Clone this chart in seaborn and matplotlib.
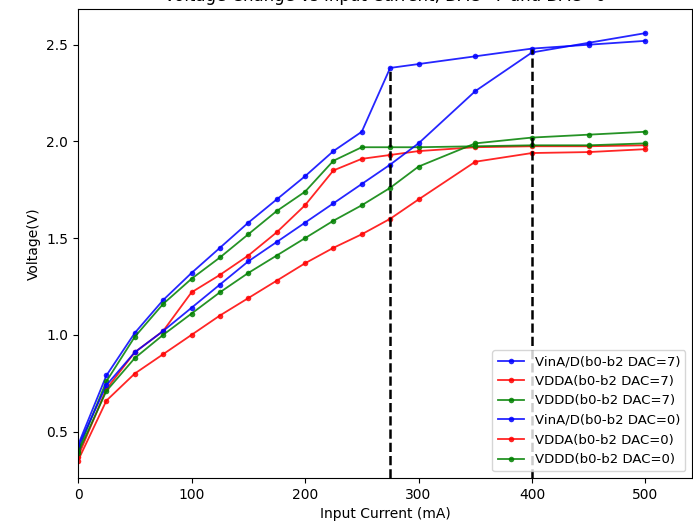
import pandas as pd
import seaborn as sns
import matplotlib.pyplot as plt

# input current (mA)
current = [0, 25, 50, 75, 100, 125, 150, 175, 200, 225, 250, 275, 300, 350, 400, 450, 500]

# measured voltages (V)
vin_dac7 = [0.43, 0.79, 1.01, 1.18, 1.32, 1.45, 1.58, 1.70, 1.82, 1.95, 2.05, 2.38, 2.40, 2.44, 2.48, 2.50, 2.52]
vdda_dac7 = [0.37, 0.72, 0.91, 1.02, 1.22, 1.31, 1.41, 1.53, 1.67, 1.85, 1.91, 1.93, 1.95, 1.97, 1.975, 1.975, 1.98]
vddd_dac7 = [0.40, 0.76, 0.99, 1.16, 1.29, 1.40, 1.52, 1.64, 1.74, 1.90, 1.97, 1.97, 1.97, 1.975, 1.98, 1.98, 1.99]
vin_dac0 = [0.42, 0.74, 0.91, 1.02, 1.14, 1.26, 1.38, 1.48, 1.58, 1.68, 1.78, 1.88, 1.99, 2.26, 2.46, 2.51, 2.56]
vdda_dac0 = [0.35, 0.66, 0.80, 0.90, 1.00, 1.10, 1.19, 1.28, 1.37, 1.45, 1.52, 1.60, 1.70, 1.895, 1.94, 1.945, 1.96]
vddd_dac0 = [0.39, 0.71, 0.88, 1.00, 1.11, 1.22, 1.32, 1.41, 1.50, 1.59, 1.67, 1.76, 1.87, 1.99, 2.02, 2.035, 2.05]

labels = ['VinA/D(b0-b2 DAC=7)', 'VDDA(b0-b2 DAC=7)', 'VDDD(b0-b2 DAC=7)',
          'VinA/D(b0-b2 DAC=0)', 'VDDA(b0-b2 DAC=0)', 'VDDD(b0-b2 DAC=0)']
colors = ['b', 'r', 'g', 'b', 'r', 'g']
series = [vin_dac7, vdda_dac7, vddd_dac7, vin_dac0, vdda_dac0, vddd_dac0]

# dashed markers at the jump points of VinA/D
mark_current = [275, 400]
mark_top = [2.38, 2.48]

fig = plt.figure(figsize=(6.93, 5.21), dpi=100)
ax = fig.add_axes([0.1126, 0.0825, 0.886, 0.900])

for vals, lab, col in zip(series, labels, colors):
    df = pd.DataFrame({'Current': current, 'Voltage': vals})
    sns.lineplot(data=df, x='Current', y='Voltage', ax=ax, color=col, marker='o',
                 markersize=4, markeredgewidth=0, linewidth=1.3, alpha=0.85, label=lab)

ymin = 0.26
ax.vlines(mark_current, ymin, mark_top, colors='k', linestyles='--', linewidth=1.8)

ax.set_xlim(0, 541)
ax.set_ylim(ymin, 2.684)
ax.set_xticks([0, 100, 200, 300, 400, 500])
ax.set_yticks([0.5, 1.0, 1.5, 2.0, 2.5])
ax.set_xlabel('Input Current (mA)')
ax.set_ylabel('Voltage(V)')
ax.set_title('Voltage Change vs Input Current, DAC=7 and DAC=0')
ax.legend(loc='lower right', fontsize=9.5)

fig.savefig('out.png', dpi=100)
